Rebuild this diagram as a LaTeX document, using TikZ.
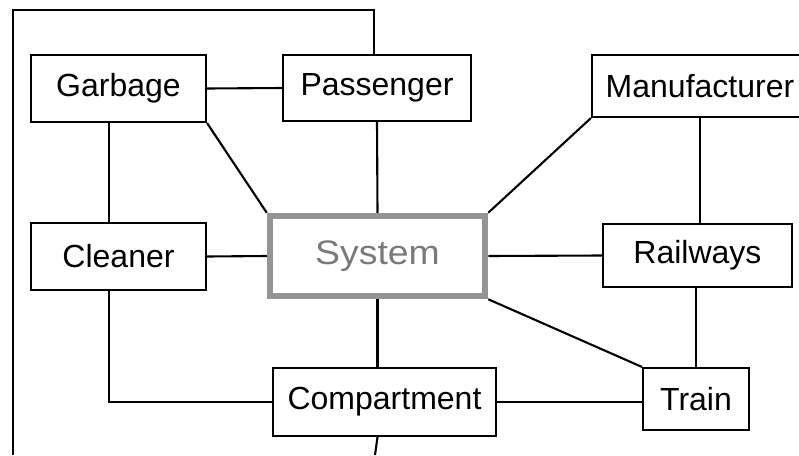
\documentclass[tikz,border=0pt]{standalone}
\usepackage{fontspec}
\setmainfont{Liberation Sans}
\begin{document}
\begin{tikzpicture}[x=1pt,y=-1pt,
  entity/.style={draw=black, line width=2.1pt, fill=white, inner sep=0pt,
    font=\fontsize{32}{38}\selectfont},
  link/.style={draw=black, line width=2.1pt},
  core/.style={draw=black!42, line width=6.5pt, fill=white, inner sep=0pt,
    text=black!52, font=\fontsize{34}{40}\selectfont}]
\useasboundingbox (0,0) rectangle (799,455);
\begin{scope}
\clip (0,0) rectangle (799,455);
% entities
\node[entity, minimum width=175pt, minimum height=67pt] (garbage) at (118.5,88.5) {Garbage};
\node[entity, minimum width=188pt, minimum height=66pt] (passenger) at (377,88) {Passenger};
\node[entity, minimum width=216pt, minimum height=62pt] (manufacturer) at (700,86) {Manufacturer};
\node[entity, minimum width=175pt, minimum height=67pt] (cleaner) at (118.5,256.5) {Cleaner};
\node[entity, minimum width=189pt, minimum height=63pt] (railways) at (697.5,255.5) {Railways};
\node[entity, minimum width=223pt, minimum height=68pt] (compartment) at (384.5,402) {Compartment};
\node[entity, minimum width=106pt, minimum height=62pt] (train) at (696,399) {Train};
% central system
\node[core, minimum width=215pt, minimum height=80pt] (system) at (377.5,256) {\scalebox{1.1}[1]{System}};
% frame running round the left side
\coordinate (frameBL) at (13,455);
\coordinate (frameTL) at (13,10);
\coordinate (bottomEnd) at (375,455);
\draw[link] (frameBL) -- (frameTL) -| ([xshift=-3pt]passenger.north);
% connectors
\draw[link] (garbage.east) -- (passenger.west);
\draw[link] ([xshift=-9.5pt]garbage.south) -- ([xshift=-9.5pt]cleaner.north);
\draw[link] (garbage.south east) -- (system.north west);
\draw[link] (passenger.south) -- (system.north);
\draw[link] (manufacturer.south west) -- (system.north east);
\draw[link] (cleaner.east) -- (system.west);
\draw[link] (system.east) -- (railways.west);
\draw[link] (manufacturer.south) -- (manufacturer.south |- railways.north);
\draw[link] (train.north |- railways.south) -- (train.north);
\draw[link] (system.south east) -- (train.north west);
\draw[link] (system.south) -- (system.south |- compartment.north);
\draw[link] (system.south |- compartment.south) -- (bottomEnd);
\draw[link] ([xshift=-9.5pt]cleaner.south) |- (compartment.west);
\draw[link] (compartment.east) -- (compartment.east -| train.west);
\end{scope}
\end{tikzpicture}
\end{document}
